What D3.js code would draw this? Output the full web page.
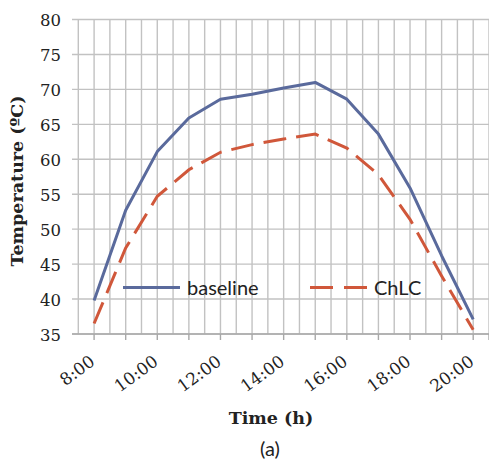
<!DOCTYPE html>
<html>
<head>
<meta charset="utf-8">
<script src="https://cdn.jsdelivr.net/npm/d3@7"></script>
<style>
html,body{margin:0;padding:0;background:#fff;}
svg{display:block;}
</style>
</head>
<body>
<svg id="chart" width="489" height="462"></svg>
<script>
// ---- data ----
const hours = [8, 9, 10, 11, 12, 13, 14, 15, 16, 17, 18, 19, 20];
const baseline = [39.8, 52.7, 61.1, 65.9, 68.6, 69.3, 70.2, 71.0, 68.6, 63.6, 55.9, 46.2, 37.1];
const chlc = [36.5, 47.3, 54.7, 58.5, 61.0, 62.1, 62.9, 63.6, 61.6, 57.8, 51.4, 43.3, 35.6];
const xTickLabels = ["8:00", "10:00", "12:00", "14:00", "16:00", "18:00", "20:00"];
const xLabelHours = [8, 10, 12, 14, 16, 18, 20];
const yTicks = [35, 40, 45, 50, 55, 60, 65, 70, 75, 80];
const seriesNames = ["baseline", "ChLC"];
const seriesColors = ["#5a6a9c", "#d0573a"];

const svg = d3.select("#chart");
const x = d3.scaleLinear().domain([7.5, 20.5]).range([78.3, 489]);
const y = d3.scaleLinear().domain([35, 80]).range([334, 19.5]);

const gridColor = "#c2c2c2";
// vertical gridlines every half hour
const halfHours = d3.range(7.5, 20.51, 0.5);
svg.append("g").selectAll("line").data(halfHours).join("line")
  .attr("x1", d => x(d)).attr("x2", d => x(d))
  .attr("y1", y(80)).attr("y2", y(35))
  .attr("stroke", gridColor).attr("stroke-width", 1.4);
// horizontal gridlines (with left tick extension)
svg.append("g").selectAll("line").data(yTicks).join("line")
  .attr("x1", 72).attr("x2", 489)
  .attr("y1", d => y(d)).attr("y2", d => y(d))
  .attr("stroke", gridColor).attr("stroke-width", 1.4);

// x axis line & ticks
svg.append("line").attr("x1", 72).attr("x2", 489).attr("y1", y(35)).attr("y2", y(35))
  .attr("stroke", "#a8a8a8").attr("stroke-width", 1.4);
svg.append("g").selectAll("line").data(hours.concat([20.5])).join("line")
  .attr("x1", d => x(d)).attr("x2", d => x(d))
  .attr("y1", y(35)).attr("y2", y(35) + 6)
  .attr("stroke", "#a8a8a8").attr("stroke-width", 1.4);

// y tick labels
svg.append("g").selectAll("text").data(yTicks).join("text")
  .attr("x", 61).attr("y", d => y(d) + 1)
  .attr("dy", "0.36em")
  .attr("text-anchor", "end")
  .attr("font-family", "'DejaVu Serif', serif")
  .attr("font-size", 16.5).attr("fill", "#222")
  .text(d => d);

// x tick labels (rotated)
svg.append("g").selectAll("text").data(xLabelHours).join("text")
  .attr("transform", d => `translate(${x(d) + 2},${y(35) + 30}) rotate(-36)`)
  .attr("text-anchor", "end")
  .attr("font-family", "'DejaVu Serif', serif")
  .attr("font-size", 17).attr("fill", "#222")
  .text((d, i) => xTickLabels[i]);

// lines
const lineGen = d3.line().x((d, i) => x(hours[i])).y(d => y(d));
svg.append("path").datum(baseline).attr("d", lineGen)
  .attr("fill", "none").attr("stroke", seriesColors[0]).attr("stroke-width", 3)
  .attr("stroke-linejoin", "round");
svg.append("path").datum(chlc).attr("d", lineGen)
  .attr("fill", "none").attr("stroke", seriesColors[1]).attr("stroke-width", 3)
  .attr("stroke-dasharray", "23,10");

// legend
const lg = svg.append("g");
const legendX = [123, 310];
seriesNames.forEach((name, i) => {
  lg.append("line").attr("x1", legendX[i]).attr("x2", legendX[i] + 57)
    .attr("y1", 287.5).attr("y2", 287.5)
    .attr("stroke", seriesColors[i]).attr("stroke-width", 3)
    .attr("stroke-dasharray", i === 1 ? "23,11" : null);
  lg.append("text").attr("x", legendX[i] + 64).attr("y", 287.5).attr("dy", "0.35em")
    .attr("font-family", "Lato, 'Open Sans', sans-serif").attr("font-size", 20).attr("fill", "#222")
    .text(name);
});

// axis titles
svg.append("text")
  .attr("transform", `translate(23,181) rotate(-90)`)
  .attr("text-anchor", "middle")
  .attr("font-family", "'DejaVu Serif', serif").attr("font-weight", "bold")
  .attr("font-size", 17.5).attr("fill", "#222")
  .text("Temperature (ºC)");
svg.append("text")
  .attr("x", 271).attr("y", 424)
  .attr("text-anchor", "middle")
  .attr("font-family", "'DejaVu Serif', serif").attr("font-weight", "bold")
  .attr("font-size", 17.5).attr("fill", "#222")
  .text("Time (h)");
svg.append("text")
  .attr("x", 270).attr("y", 456)
  .attr("text-anchor", "middle")
  .attr("font-family", "Lato, 'Open Sans', sans-serif")
  .attr("font-size", 20).attr("fill", "#222")
  .text("(a)");
</script>
</body>
</html>
